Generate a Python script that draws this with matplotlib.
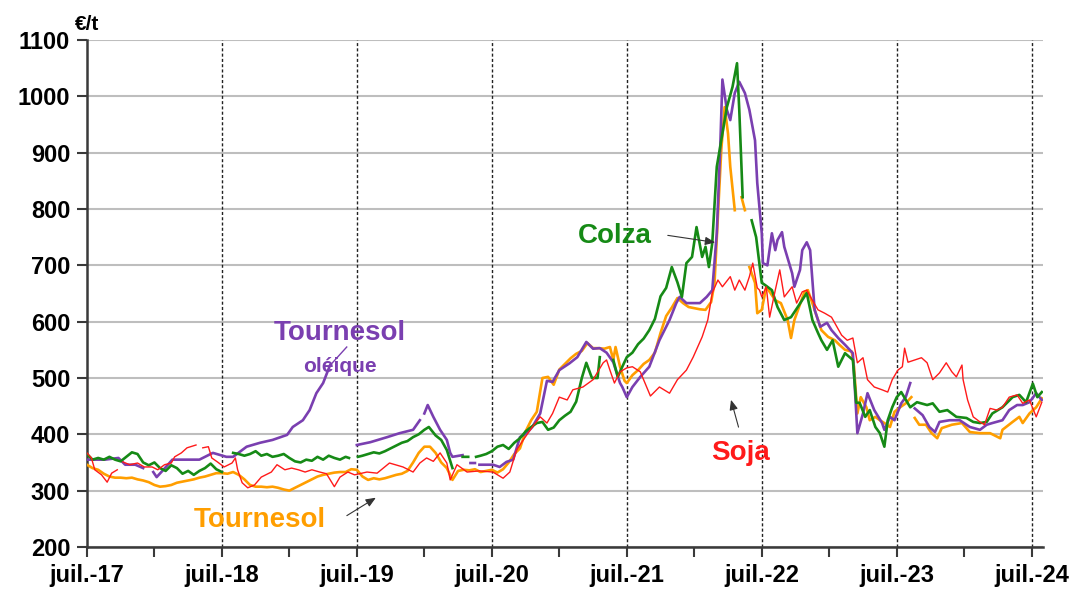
import numpy as np
import matplotlib
matplotlib.use("Agg")
import matplotlib.pyplot as plt

plt.rcParams['font.family'] = ['Liberation Sans', 'DejaVu Sans']

# months counted from July 2017, value in EUR/t (None = gap in the series)
COLZA = [
    (0, 365), (0.5, 355), (1, 358), (1.5, 355), (2, 360), (2.5, 355), (3, 352), (3.5, 360), (4, 368), (4.5, 365),
    (5, 350), (5.5, 345), (6, 350), (6.5, 340), (7, 335), (7.5, 345), (8, 340), (8.5, 330), (9, 335), (9.5, 328),
    (10, 335), (10.5, 340), (11, 348), (11.5, 338), (12, 333), (12.5, None), (13, 367), (13.5, 365), (14, 362),
    (14.5, 365), (15, 370), (15.5, 362), (16, 365), (16.5, 360), (17, 362), (17.5, 365), (18, 358), (18.5, 352),
    (19, 350), (19.5, 355), (20, 353), (20.5, 360), (21, 355), (21.5, 362), (22, 358), (22.5, 355), (23, 360),
    (23.3, 358), (23.6, None), (24.1, 360), (24.5, 362), (25, 365), (25.5, 368), (26, 366), (26.5, 370), (27, 375),
    (27.5, 380), (28, 385), (28.5, 388), (29, 395), (29.5, 400), (30, 408), (30.4, 413), (31, 398), (31.5, 390),
    (32, 372), (32.5, 340), (32.7, None), (33.4, 360), (33.9, 360), (34.1, None), (34.6, 360), (35, 362), (35.5, 365),
    (36, 370), (36.5, 378), (37, 381), (37.5, 374), (38, 385), (38.5, 393), (39, 405), (39.5, 413), (40, 420),
    (40.5, 422), (41, 408), (41.5, 412), (42, 425), (42.5, 433), (43, 440), (43.5, 458), (44, 500), (44.4, 527),
    (44.9, 500), (45.4, 500), (45.6, 537), (45.8, None), (46.8, 532), (47.2, 502), (47.6, 520), (48, 537),
    (48.5, 545), (49, 560), (49.5, 570), (50, 585), (50.5, 605), (51, 645), (51.5, 660), (52, 697), (52.5, 670),
    (52.9, 644), (53.3, 704), (53.8, 715), (54.2, 768), (54.7, 715), (55, 733), (55.3, 697), (55.6, 740), (56, 875),
    (56.3, 910), (56.9, 981), (57.4, 1017), (57.8, 1059), (58, 976), (58.3, 821), (58.5, None), (59.1, 780),
    (59.5, 750), (60, 669), (60.3, 665), (60.9, 656), (61.4, 626), (62, 603), (62.6, 608), (63.2, 626), (64, 651),
    (64.5, 603), (65, 580), (65.3, 567), (65.8, 550), (66.3, 567), (66.8, 520), (67.4, 544), (68.1, 532),
    (68.4, 456), (68.7, 456), (69.2, 431), (69.6, 443), (70.1, 413), (70.5, 402), (70.9, 378), (71.2, 425),
    (71.6, 448), (72, 466), (72.4, 475), (73.2, 448), (73.8, 457), (74.7, 452), (75.2, 455), (75.8, 440),
    (76.5, 443), (77.3, 431), (78.2, 429), (78.8, 422), (79.4, 420), (80, 422), (80.5, 437), (81.4, 448),
    (82.3, 466), (82.9, 470), (83.5, 457), (84.1, 490), (84.5, 466), (84.9, 475),
]

TOURNESOL = [
    (0, 346), (0.5, 340), (1, 337), (1.5, 330), (2, 325), (2.5, 323), (3, 323), (3.5, 322), (4, 323), (4.5, 320),
    (5, 318), (5.5, 315), (6, 310), (6.5, 307), (7, 308), (7.5, 310), (8, 314), (8.5, 316), (9, 318), (9.5, 320),
    (10, 323), (10.5, 325), (11, 328), (11.5, 331), (12, 331), (12.5, 330), (13, 333), (13.5, 328), (14, 320),
    (14.5, 310), (15, 307), (15.5, 307), (16, 306), (16.5, 307), (17, 305), (17.5, 302), (18, 300), (18.5, 305),
    (19, 310), (19.5, 315), (20, 320), (20.5, 325), (21, 328), (21.5, 330), (22, 332), (22.5, 333), (23, 333),
    (23.5, 338), (24, 337), (24.5, 325), (25, 319), (25.5, 322), (26, 320), (26.5, 322), (27, 325), (27.5, 328),
    (28, 330), (28.5, 335), (29, 350), (29.5, 367), (30, 378), (30.5, 378), (31, 367), (31.5, 350), (32, 340),
    (32.5, 319), (33, 335), (33.5, 337), (34, 336), (34.5, 338), (35, 333), (35.5, 335), (36, 337), (36.5, 332),
    (37, 338), (37.5, 350), (38, 365), (38.5, 375), (39, 405), (39.5, 425), (40, 440), (40.5, 500), (41, 502),
    (41.5, 488), (42, 515), (42.5, 525), (43, 535), (43.5, 543), (44, 548), (44.5, 562), (45, 553), (45.5, 553),
    (46, 552), (46.5, 555), (46.8, 532), (47, 555), (47.4, 520), (47.8, 495), (48, 491), (48.5, 505), (49, 514),
    (49.5, 525), (50, 532), (50.5, 545), (51, 580), (51.5, 610), (52, 625), (52.5, 642), (53, 633), (53.5, 626),
    (54, 624), (54.5, 622), (55, 621), (55.5, 635), (55.8, 669), (56.1, 786), (56.4, 905), (56.7, 981), (57, 934),
    (57.2, 875), (57.6, 798), (57.8, None), (58.2, 821), (58.5, 798), (58.7, None), (58.9, 697), (59.4, 669),
    (59.6, 615), (60, 621), (60.4, 662), (61.2, 638), (61.7, 633), (62.3, 603), (62.6, 571), (62.9, 603),
    (63.8, 653), (64.1, 656), (64.7, 621), (65.3, 585), (65.9, 573), (66.5, 567), (66.9, 559), (67.4, 550),
    (68, 547), (68.2, 520), (68.5, 437), (68.8, 466), (69.3, 448), (69.6, 425), (70.1, 431), (70.5, 425),
    (70.9, 420), (71.4, 413), (71.8, 440), (72.3, 448), (72.8, 455), (73.3, 466), (73.45, None), (73.6, 429),
    (74, 417), (74.6, 417), (75.1, 402), (75.6, 393), (76, 411), (76.9, 417), (77.8, 420), (78.5, 404), (79.4, 402),
    (80.3, 402), (81.2, 393), (81.4, 408), (82.3, 422), (82.9, 431), (83.2, 420), (83.8, 437), (84.4, 448),
    (84.9, 464),
]

SOJA = [
    (0, 367), (0.4, 358), (0.7, 337), (1.3, 328), (1.8, 315), (2.2, 331), (2.7, 337), (2.8, None), (3.2, 351),
    (3.8, 346), (4.5, 349), (5.1, 342), (5.8, 342), (6.3, 337), (6.9, 346), (7.5, 349), (7.8, 360), (8.4, 367),
    (8.9, 376), (9.7, 381), (9.9, None), (10.3, 376), (10.8, 378), (11.1, 358), (11.6, 351), (12.2, 342),
    (12.9, 349), (13.2, 358), (13.4, 337), (13.8, 314), (14.3, 305), (14.9, 310), (15.5, 324), (16.4, 333),
    (16.9, 346), (17.6, 337), (18.2, 340), (18.8, 337), (19.4, 333), (20, 337), (20.7, 333), (21.3, 330), (22, 307),
    (22.5, 324), (23.2, 333), (23.8, 328), (24.9, 333), (25.8, 331), (26.9, 349), (28.1, 342), (29, 333),
    (29.6, 349), (30.2, 358), (30.8, 352), (31.4, 367), (32, 349), (32.3, 319), (32.9, 346), (33.8, 333),
    (34.9, 335), (36.1, 333), (37, 322), (37.6, 333), (38.2, 372), (38.9, 393), (39.6, 413), (40.3, 431),
    (40.9, 420), (41.4, 437), (42, 466), (42.7, 461), (43.2, 479), (44.1, 484), (45, 497), (45.9, 527), (46.2, 532),
    (46.5, 514), (46.9, 491), (47.4, 511), (48, 518), (48.5, 520), (49.2, 511), (50.1, 468), (50.9, 484),
    (51.8, 473), (52.5, 497), (53.3, 514), (53.9, 537), (54.7, 573), (55.2, 603), (55.6, 651), (56.1, 674),
    (56.5, 662), (57.2, 680), (57.6, 656), (58, 674), (58.5, 656), (58.9, 680), (59.2, 704), (59.6, 660),
    (59.8, 656), (60, 644), (60.4, 662), (60.7, 608), (61.2, 656), (61.6, 692), (62, 644), (62.7, 662), (63.1, 633),
    (63.6, 653), (64, 656), (64.5, 638), (65, 621), (65.6, 615), (66.2, 608), (67.1, 576), (67.6, 567), (68.1, 571),
    (68.5, 527), (69, 536), (69.4, 497), (70, 484), (70.7, 479), (71.2, 475), (71.6, 497), (72.1, 514), (72.5, 520),
    (72.7, 553), (73, 528), (73.6, 532), (74.2, 536), (74.7, 527), (75.2, 497), (75.8, 509), (76.4, 527),
    (76.9, 511), (77.3, 502), (77.8, 523), (77.9, 497), (78.3, 461), (78.8, 431), (79.4, 422), (79.8, 417),
    (80.3, 446), (80.9, 443), (81.4, 448), (82, 466), (82.7, 470), (83.2, 455), (83.8, 461), (84.4, 431),
    (84.9, 457),
]

OLEIQUE = [
    (0, 355), (1.6, 355), (2.8, 358), (3.4, 346), (4.3, 346), (5, 340), (5.2, None), (5.9, 333), (6.2, 324),
    (6.8, 337), (7.6, 355), (10, 355), (11.2, 367), (12.4, 360), (13, 360), (14.2, 378), (15.4, 385), (16.5, 390),
    (17.8, 399), (18.3, 413), (19.2, 425), (19.8, 443), (20.4, 473), (21, 491), (21.6, 522), (22, None),
    (24, 381), (25.2, 386), (26.7, 395), (27.8, 402), (29, 408), (29.6, 425), (29.8, None), (30, 437), (30.3, 452),
    (30.8, 431), (31.4, 408), (32, 390), (32.3, 367), (32.5, 360), (33.4, 363), (33.7, None), (34.1, 349),
    (34.5, 349), (34.7, None), (34.9, 346), (36.1, 346), (36.7, 342), (37.3, 351), (37.9, 355), (38.5, 395),
    (39.1, 402), (39.6, 413), (40.3, 437), (40.9, 495), (41.4, 493), (42, 514), (42.9, 526), (43.6, 537),
    (44.4, 564), (45, 552), (45.6, 553), (46.2, 545), (46.8, 528), (47.1, 509), (47.4, 491), (47.6, 484), (48, 466),
    (48.5, 484), (49.2, 502), (50, 520), (50.9, 567), (51.8, 603), (52.4, 633), (52.7, 644), (53.3, 633),
    (54.5, 633), (55.1, 644), (55.6, 656), (56, 757), (56.3, 905), (56.5, 1030), (56.9, 976), (57.2, 958),
    (57.6, 1006), (58, 1026), (58.5, 1006), (58.9, 976), (59.4, 922), (59.6, 846), (60, 757), (60.1, 704),
    (60.5, 700), (60.9, 757), (61.2, 727), (61.4, 745), (61.8, 759), (62, 733), (62.7, 686), (62.9, 662),
    (63.4, 692), (63.6, 727), (64, 741), (64.3, 727), (64.7, 621), (65.2, 591), (65.8, 598), (66.2, 585),
    (66.8, 571), (67.4, 559), (68.1, 544), (68.5, 402), (69, 437), (69.4, 473), (70, 443), (70.7, 420), (70.9, 408),
    (71.4, 431), (71.8, 425), (72.4, 455), (72.8, 466), (73.2, 491), (73.4, None), (73.6, 446), (74.3, 434),
    (74.9, 413), (75.4, 404), (75.8, 422), (76.7, 425), (77.6, 425), (78.5, 413), (79.4, 408), (80, 417),
    (80.5, 420), (81.4, 425), (82, 443), (82.7, 452), (83.2, 452), (83.8, 457), (84.4, 473), (84.9, 461),
]

year_ticks = [0, 12, 24, 36, 48, 60, 72, 84]
year_labels = ['juil.-17', 'juil.-18', 'juil.-19', 'juil.-20', 'juil.-21', 'juil.-22', 'juil.-23', 'juil.-24']

GREEN = '#168A16'
ORANGE = '#FF9E00'
RED = '#FF1A1A'
PURPLE = '#7A3FB0'


def split(series):
    m = np.array([p[0] for p in series], dtype=float)
    v = np.array([np.nan if p[1] is None else p[1] for p in series], dtype=float)
    return m, v


fig = plt.figure(figsize=(10.73, 5.90), dpi=100)
ax = fig.add_axes([0.081, 0.073, 0.891, 0.859])

ax.set_xlim(0, 85)
ax.set_ylim(200, 1100)

# grid
ax.set_yticks(range(200, 1101, 100))
ax.yaxis.grid(True, color='#BEBEBE', lw=1.5)
ax.set_axisbelow(True)
for t in year_ticks[1:]:
    ax.axvline(t, color='#222222', lw=1.0, ls=(0, (2.2, 1.6)), zorder=1)

for data, col, lw in [(TOURNESOL, ORANGE, 1.9), (OLEIQUE, PURPLE, 1.9),
                      (COLZA, GREEN, 1.9), (SOJA, RED, 1.0)]:
    m, v = split(data)
    ax.plot(m, v, color=col, lw=lw, zorder=3, solid_joinstyle='round')

# leader line of the oleic label
ax.plot([21.6, 23.1], [522, 555], color=PURPLE, lw=1.0, zorder=3)

ax.set_xticks(year_ticks)
ax.set_xticklabels(year_labels)
ax.set_xticks([6, 18, 30, 42, 54, 66, 78], minor=True)

for s in ['top', 'right']:
    ax.spines[s].set_visible(False)
for s in ['left', 'bottom']:
    ax.spines[s].set_color('#3A3A3A')
    ax.spines[s].set_linewidth(1.8)

ax.tick_params(axis='both', which='both', direction='out', length=7, width=1.5, color='#3A3A3A')
ax.tick_params(axis='y', labelsize=17, pad=5)
ax.tick_params(axis='x', labelsize=17, pad=5)
for lab in ax.get_xticklabels() + ax.get_yticklabels():
    lab.set_fontweight('bold')

ax.text(0, 1128, '€/t', ha='center', va='center', fontsize=15, fontweight='bold', clip_on=False)

arrow = dict(arrowstyle='-|>,head_length=0.6,head_width=0.25', color='#333333', lw=0.8)

ax.text(46.9, 752, 'Colza', color=GREEN, fontsize=20, fontweight='bold', ha='center', va='center')
ax.annotate('', xy=(56.1, 740), xytext=(51.4, 754), arrowprops=arrow)

ax.text(22.5, 580, 'Tournesol', color=PURPLE, fontsize=20, fontweight='bold', ha='center', va='center')
ax.text(22.5, 520, 'oléique', color=PURPLE, fontsize=15, fontweight='bold', ha='center', va='center')

ax.text(15.4, 248, 'Tournesol', color=ORANGE, fontsize=20, fontweight='bold', ha='center', va='center')
ax.annotate('', xy=(25.9, 290), xytext=(22.9, 253), arrowprops=arrow)

ax.text(58.1, 367, 'Soja', color=RED, fontsize=20, fontweight='bold', ha='center', va='center')
ax.annotate('', xy=(57.2, 466), xytext=(58.0, 408), arrowprops=arrow)

fig.savefig('out.png', dpi=100)
